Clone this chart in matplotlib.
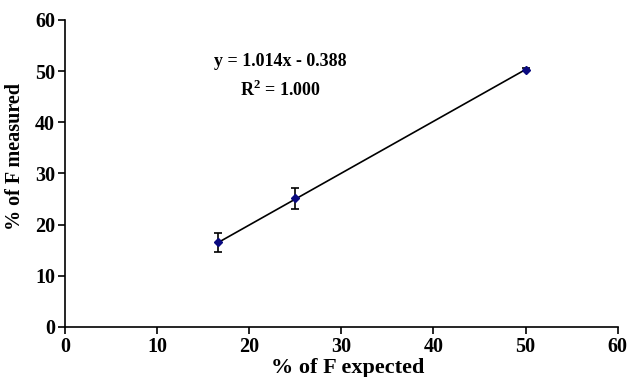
import numpy as np
import matplotlib
matplotlib.use("Agg")
import matplotlib.pyplot as plt

plt.rcParams['font.family'] = ['Liberation Serif', 'DejaVu Serif']
plt.rcParams['font.weight'] = 'bold'
plt.rcParams['mathtext.fontset'] = 'custom'
plt.rcParams['mathtext.rm'] = 'Liberation Serif:bold'
plt.rcParams['mathtext.bf'] = 'Liberation Serif:bold'

# data
expected = [16.67, 25.0, 50.0]
measured = [16.5, 25.1, 50.3]
err = [1.9, 2.1, 0.3]
slope = 1.014
intercept = -0.388

fig = plt.figure(figsize=(6.29, 3.77), dpi=100)
ax = fig.add_axes([0.103, 0.133, 0.879, 0.814])

xfit = np.array([expected[0], expected[-1]])
ax.plot(xfit, slope * xfit + intercept, color='black', lw=1.2, zorder=2)
ax.errorbar(expected, measured, yerr=err, fmt='D', color='#0a0a80', ms=4,
            ecolor='black', elinewidth=1.2, capsize=3, capthick=1.2, zorder=3)

ax.text(23.4, 51.8, 'y = 1.014x - 0.388', ha='center', va='center', fontsize=13, fontweight='bold')
ax.text(23.4, 46.3, r'R$^{\mathbf{2}}$ = 1.000', ha='center', va='center', fontsize=13, fontweight='bold')

ax.set_xlim(0, 60)
ax.set_ylim(0, 60)
ax.set_xticks(range(0, 61, 10))
ax.set_yticks(range(0, 61, 10))
ax.spines['top'].set_visible(False)
ax.spines['right'].set_visible(False)
for s in ['left', 'bottom']:
    ax.spines[s].set_linewidth(1.2)
ax.tick_params(direction='out', length=5, width=1.2, labelsize=14.5, pad=2)
for lab in ax.get_xticklabels() + ax.get_yticklabels():
    lab.set_fontweight('bold')
ax.set_xlabel('% of F expected', fontsize=16, fontweight='bold')
ax.xaxis.set_label_coords(0.512, -0.1)
ax.set_ylabel('% of F measured', fontsize=14.5, fontweight='bold')
ax.yaxis.set_label_coords(-0.072, 0.554)

fig.savefig('out.png', dpi=100)
